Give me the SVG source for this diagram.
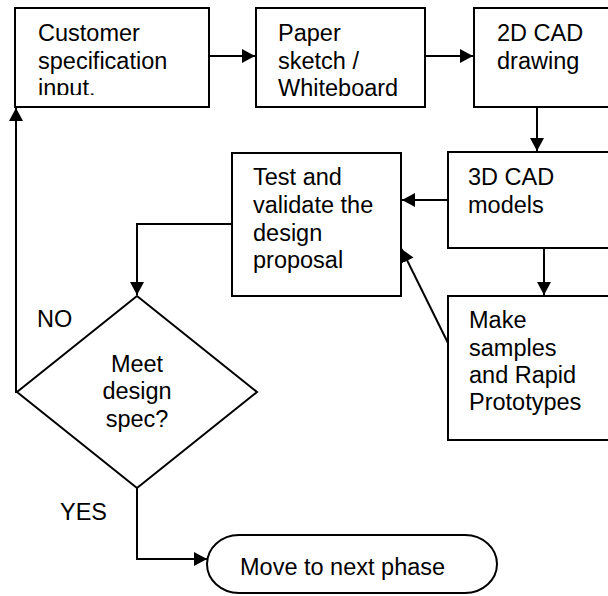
<svg xmlns="http://www.w3.org/2000/svg" width="608" height="596" viewBox="0 0 608 596">
<style>
.box{fill:#fff;stroke:#000;stroke-width:2}
.ln{fill:none;stroke:#000;stroke-width:2}
text{font-family:"Liberation Sans",Arial,sans-serif;font-size:23.5px;fill:#000}
.c{text-anchor:middle}
</style>
<defs>
<marker id="ah" markerUnits="userSpaceOnUse" markerWidth="14" markerHeight="16" refX="13" refY="7" orient="auto">
<path d="M0,0 L13,7 L0,14 Z" fill="#000"/>
</marker>
<clipPath id="clip1"><rect x="15" y="8" width="194" height="87"/></clipPath>
</defs>
<rect width="608" height="596" fill="#fff"/>
<g id="connectors">
<line class="ln" x1="209" y1="56" x2="255" y2="56" marker-end="url(#ah)"/>
<line class="ln" x1="425" y1="56" x2="473" y2="56" marker-end="url(#ah)"/>
<line class="ln" x1="537" y1="107" x2="537" y2="151" marker-end="url(#ah)"/>
<line class="ln" x1="448" y1="200" x2="402" y2="200" marker-end="url(#ah)"/>
<line class="ln" x1="544" y1="248" x2="544" y2="295" marker-end="url(#ah)"/>
<line class="ln" x1="448" y1="343" x2="401.5" y2="249" marker-end="url(#ah)"/>
<polyline class="ln" points="232,224 137,224 137,295" marker-end="url(#ah)"/>
<polyline class="ln" points="17,392 16,392 16,108" marker-end="url(#ah)"/>
<polyline class="ln" points="137,488 137,559 207,559" marker-end="url(#ah)"/>
</g>
<g id="customer">
<rect class="box" x="15" y="8" width="194" height="99"/>
<g clip-path="url(#clip1)">
<text x="38" y="41">Customer</text>
<text x="38" y="68.5">specification</text>
<text x="38" y="96">input.</text>
</g>
</g>
<g id="paper">
<rect class="box" x="256" y="8" width="169" height="99"/>
<text x="278" y="41">Paper</text>
<text x="278" y="68.5">sketch /</text>
<text x="278" y="96">Whiteboard</text>
</g>
<g id="cad2d">
<rect class="box" x="474" y="8" width="148" height="99"/>
<text x="497" y="41">2D CAD</text>
<text x="497" y="68.5">drawing</text>
</g>
<g id="cad3d">
<rect class="box" x="448" y="152" width="174" height="96"/>
<text x="468" y="185">3D CAD</text>
<text x="468" y="213">models</text>
</g>
<g id="test">
<rect class="box" x="232" y="153" width="169" height="143"/>
<text x="253" y="185">Test and</text>
<text x="253" y="213">validate the</text>
<text x="253" y="241">design</text>
<text x="253" y="268">proposal</text>
</g>
<g id="make">
<rect class="box" x="448" y="296" width="174" height="144"/>
<text x="469" y="328">Make</text>
<text x="469" y="356">samples</text>
<text x="469" y="383">and Rapid</text>
<text x="469" y="410">Prototypes</text>
</g>
<g id="decision">
<polygon class="box" points="137,296 257,392 137,488 17,392"/>
<text class="c" x="137" y="372">Meet</text>
<text class="c" x="137" y="399">design</text>
<text class="c" x="137" y="427">spec?</text>
</g>
<g id="labels">
<text x="37" y="327">NO</text>
<text x="60" y="520">YES</text>
</g>
<g id="next">
<rect class="box" x="207" y="535" width="290" height="58" rx="32" ry="29"/>
<text x="240" y="575">Move to next phase</text>
</g>
</svg>
